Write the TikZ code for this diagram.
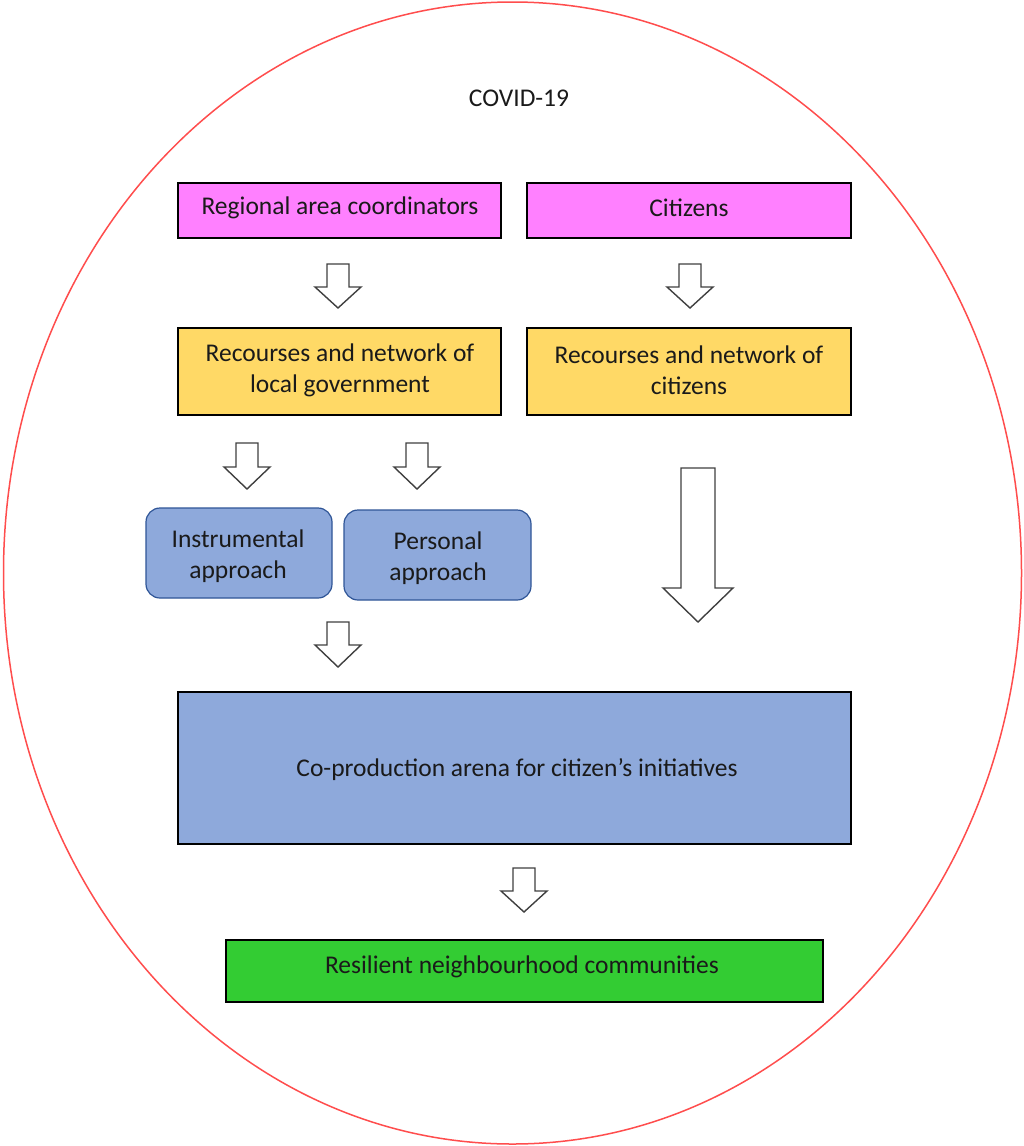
\documentclass[tikz,border=0pt]{standalone}
\usepackage{fontspec}
\setmainfont{Carlito}
\definecolor{ellred}{HTML}{FF4D4D}
\definecolor{magbox}{HTML}{FF80FF}
\definecolor{yelbox}{HTML}{FFD966}
\definecolor{bluebox}{HTML}{8EA9DB}
\definecolor{blueedge}{HTML}{2F5597}
\definecolor{grnbox}{HTML}{33CC33}
\definecolor{arrgray}{HTML}{404040}
\definecolor{txt}{HTML}{1A1A1A}
\begin{document}
\begin{tikzpicture}[x=1pt,y=-1pt,
  every node/.style={font=\fontsize{25.5}{31}\selectfont, text=txt, align=center, inner sep=0pt},
  box/.style={draw=black, line width=1.3pt},
  magentabox/.style={box, fill=magbox},
  yellowbox/.style={box, fill=yelbox},
  approachbox/.style={draw=blueedge, line width=1.2pt, fill=bluebox, rounded corners=14pt},
  arenabox/.style={box, fill=bluebox},
  greenbox/.style={box, fill=grnbox},
  blockarrow/.style={draw=arrgray, line width=1.4pt, fill=white, line join=miter}
]
\useasboundingbox (0,0) rectangle (1023,1146);
\fill[white] (0,0) rectangle (1023,1146);
\draw[ellred, line width=1.5pt] (512.5,573) ellipse [x radius=509, y radius=571];

\node (covid) at (519,98) {COVID-19};

% boxes
\draw[magentabox] (178,183) rectangle (501,238);
\node (rac) at (340,208) {Regional area coordinators};
\draw[magentabox] (527,183) rectangle (851,238);
\node (cit) at (689,208) {Citizens};

\draw[yellowbox] (178,328) rectangle (501,415);
\node (rlg) at (340,370) {Recourses and network of\\local government};
\draw[yellowbox] (527,328) rectangle (851,415);
\node (rci) at (689,370) {Recourses and network of\\citizens};

\draw[approachbox] (146,508) rectangle (332,598);
\node (ins) at (238,556) {Instrumental\\approach};
\draw[approachbox] (344,510) rectangle (531,600);
\node (per) at (438,558) {Personal\\approach};

\draw[arenabox] (178,692) rectangle (851,844);
\node (arena) at (517,770) {Co-production arena for citizen’s initiatives};

\draw[greenbox] (226,940) rectangle (823,1002);
\node (res) at (522,967) {Resilient neighbourhood communities};

% block arrows: #1 center x, #2 top y, #3 head start y, #4 tip y, #5 half shaft, #6 half head
\newcommand{\blkarrow}[6]{%
  \draw[blockarrow] (#1-#5,#2) -- (#1+#5,#2) -- (#1+#5,#3) -- (#1+#6,#3) -- (#1,#4)
    -- (#1-#6,#3) -- (#1-#5,#3) -- cycle;}
\blkarrow{338}{264}{287}{308}{11}{23}
\blkarrow{690}{264}{287}{308}{11}{23}
\blkarrow{247}{443}{467}{489}{11}{23}
\blkarrow{417}{443}{467}{489}{11}{23}
\blkarrow{338}{622}{645}{667}{11}{23}
\blkarrow{698}{468}{588}{622}{17}{35}
\blkarrow{524}{868}{891}{912}{11}{23}
\end{tikzpicture}
\end{document}
